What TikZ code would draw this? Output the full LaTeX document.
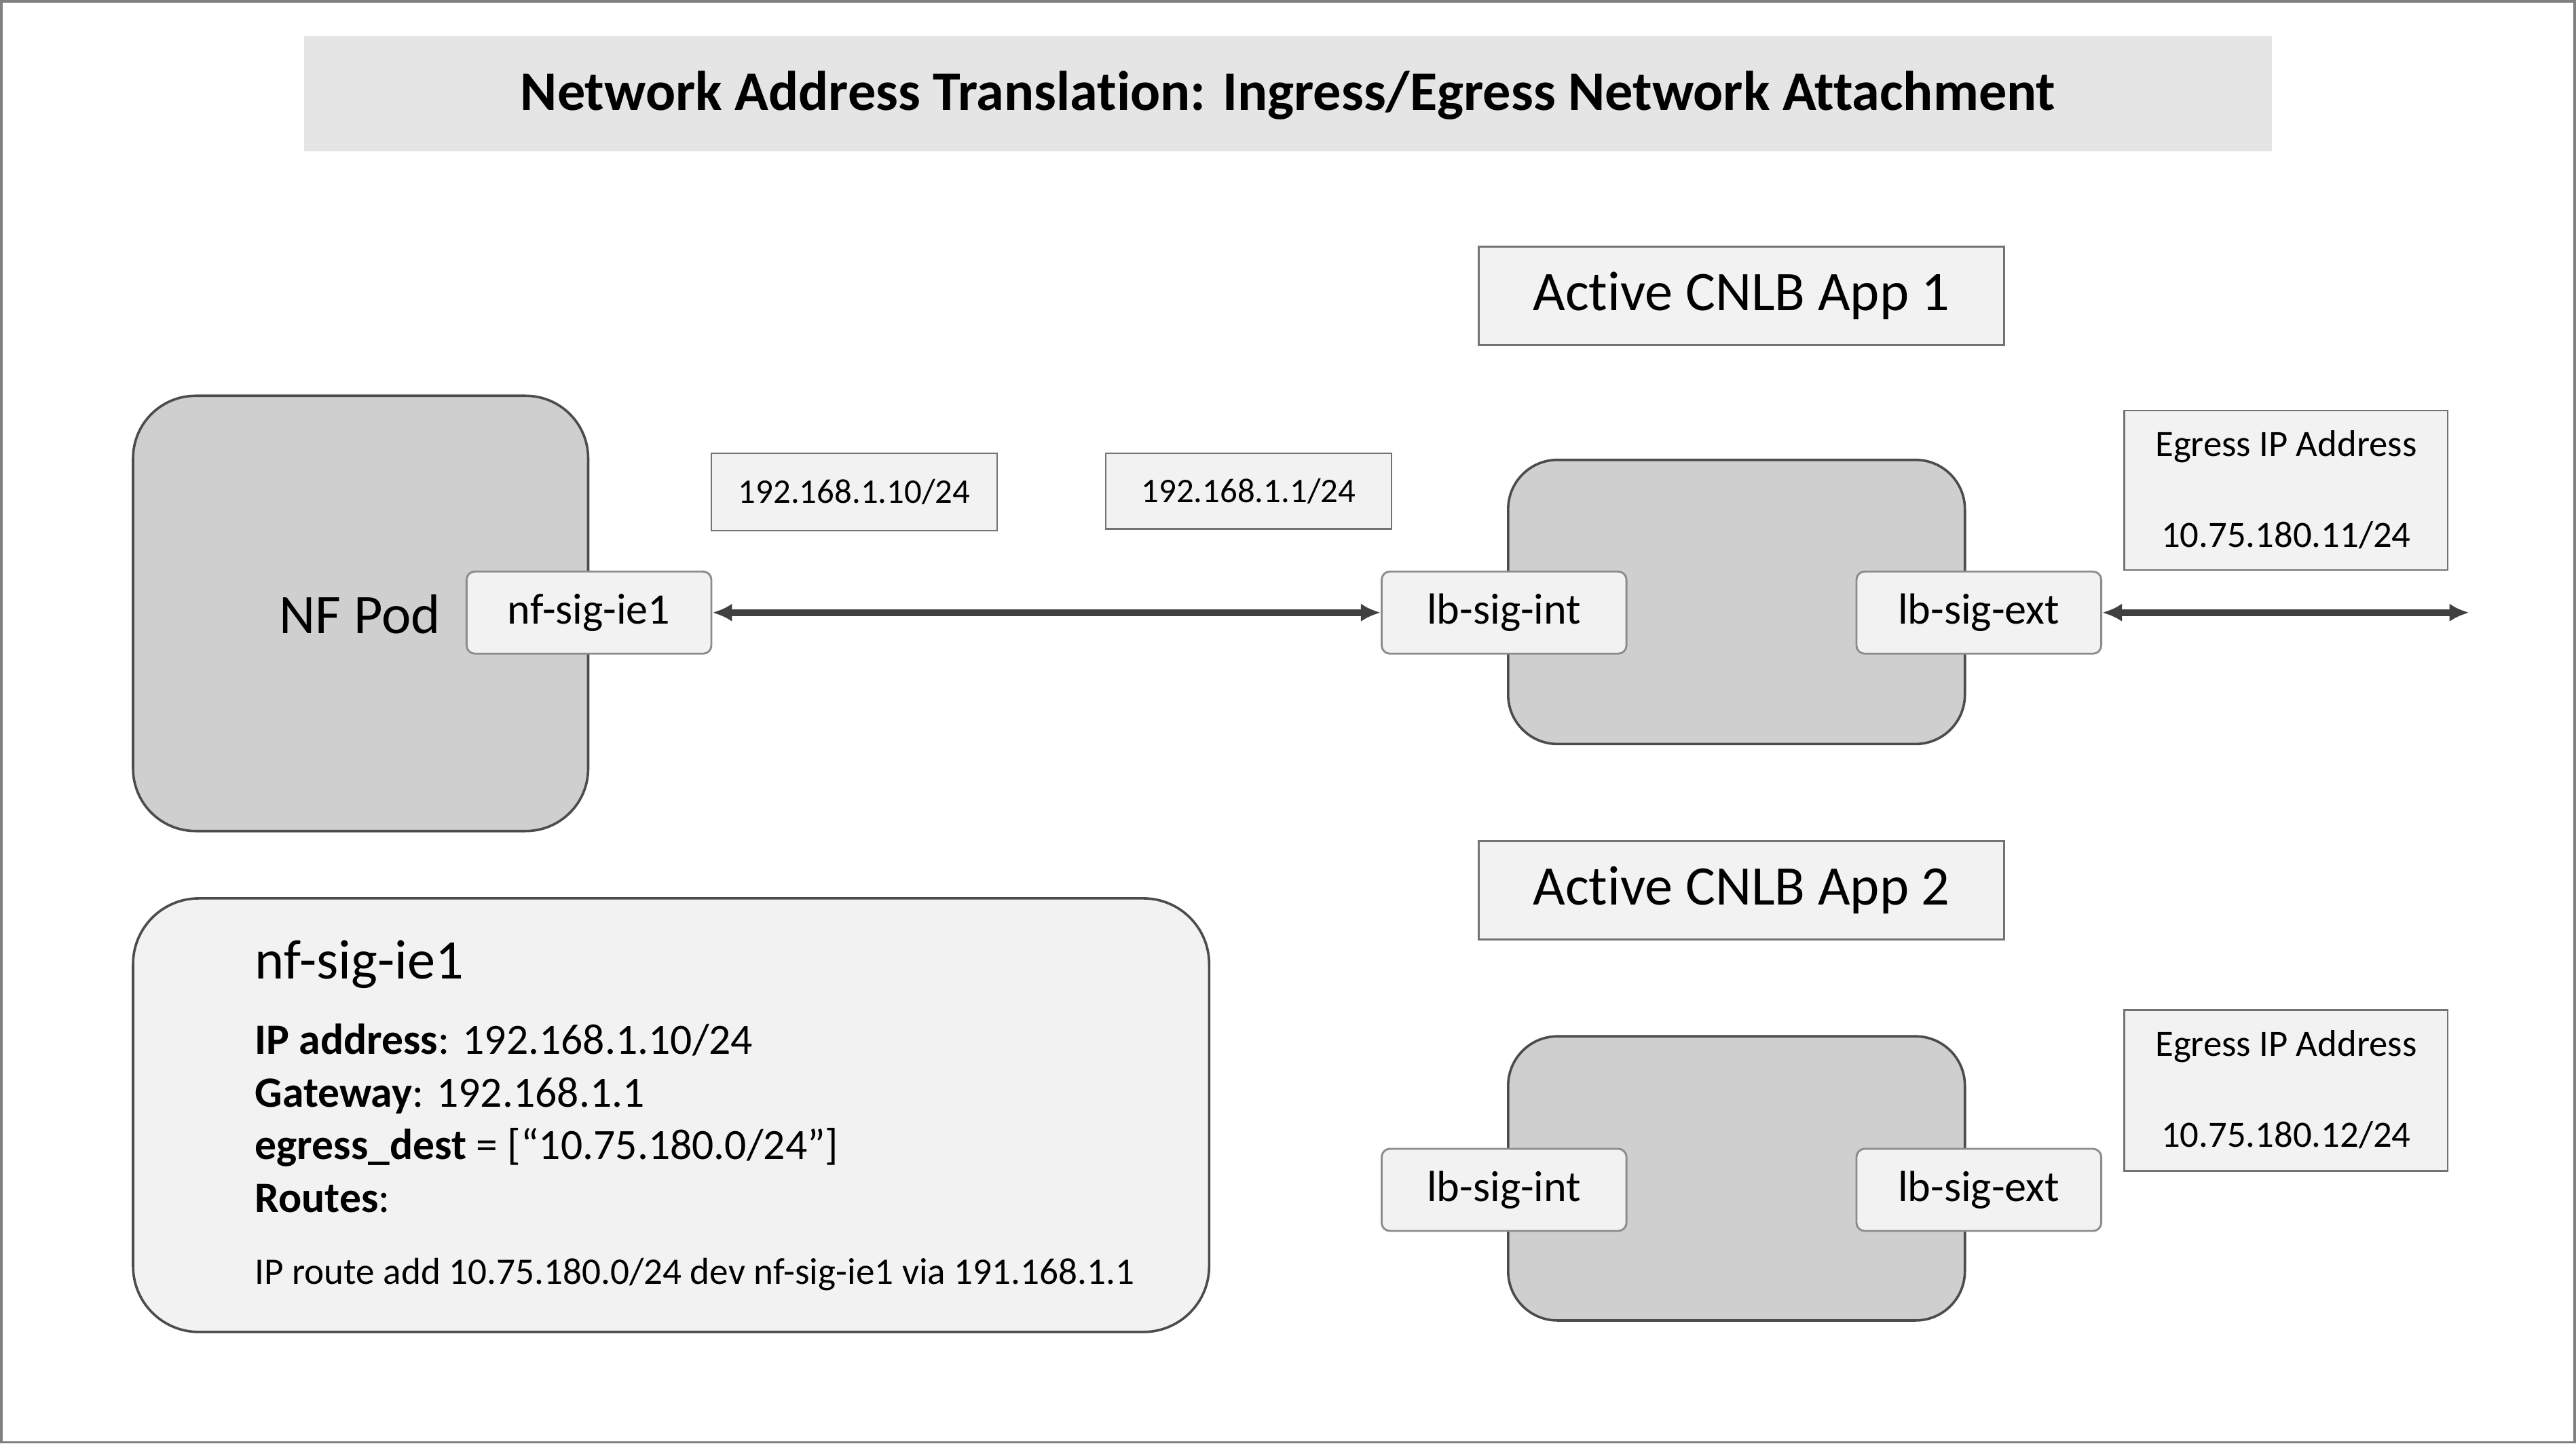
\documentclass[tikz,border=0pt]{standalone}
\usepackage{fontspec}
\setmainfont{Carlito}[Ligatures=NoCommon]
\begin{document}
\begin{tikzpicture}[x=1pt,y=-1pt,
  bigbox/.style={draw=black!70,line width=1.5pt,fill=black!19,rounded corners=38pt},
  port/.style={draw=black!45,line width=1.2pt,fill=black!5,rounded corners=5pt,minimum width=149pt,minimum height=50pt,font=\fontsize{26.5}{30}\selectfont,inner sep=0pt},
  lbl/.style={draw=black!55,line width=1pt,fill=black!5,font=\fontsize{21}{24}\selectfont,inner sep=0pt},
  app/.style={draw=black!55,line width=1.2pt,fill=black!5,minimum width=320pt,minimum height=60pt,font=\fontsize{34}{38}\selectfont,inner sep=0pt},
  conn/.style={draw=black!75,line width=4pt,<->,>={Latex[length=12pt,width=11pt]}}]
\usetikzlibrary{arrows.meta}
\useasboundingbox (0,0) rectangle (1568,879);
\draw[black!50,line width=1.5pt] (0.75,0.75) rectangle (1567.25,878.25);
\fill[black!10] (185,22) rectangle (1383,92);
\node[font=\bfseries\fontsize{34}{38}\selectfont] (title) at (784,58) {Network Address Translation: Ingress/Egress Network Attachment};
% NF pod
\draw[bigbox] (81,241) rectangle (358,506);
\node[font=\fontsize{34}{38}\selectfont] (nfpod) at (219,374) {NF Pod};
\node[port] (nf) at (358.5,373) {nf-sig-ie1};
\node[lbl,minimum width=174pt,minimum height=47pt] (ip1) at (520,299.5) {192.168.1.10/24};
\node[lbl,minimum width=174pt,minimum height=46pt] (ip2) at (760,299) {192.168.1.1/24};
% App 1
\node[app] (app1) at (1060,180) {Active CNLB App 1};
\draw[bigbox,rounded corners=30pt] (918,280) rectangle (1196,453);
\node[port] (int1) at (915.5,373) {lb-sig-int};
\node[port] (ext1) at (1204.5,373) {lb-sig-ext};
\node[lbl,minimum width=197pt,minimum height=97pt] (eg1) at (1391.5,298.5) {};
\node[font=\fontsize{22.6}{26}\selectfont] at (1391.5,272) {Egress IP Address};
\node[font=\fontsize{22.6}{26}\selectfont] at (1391.5,326) {10.75.180.11/24};
\coordinate (out) at (1503,373);
\draw[conn] (nf.east) -- (int1.west);
\draw[conn] (ext1.east) -- (out);
% App 2
\node[app] (app2) at (1060,542) {Active CNLB App 2};
\draw[bigbox,rounded corners=30pt] (918,631) rectangle (1196,804);
\node[port] (int2) at (915.5,724.5) {lb-sig-int};
\node[port] (ext2) at (1204.5,724.5) {lb-sig-ext};
\node[lbl,minimum width=197pt,minimum height=98pt] (eg2) at (1391.5,664) {};
\node[font=\fontsize{22.6}{26}\selectfont] at (1391.5,637) {Egress IP Address};
\node[font=\fontsize{22.6}{26}\selectfont] at (1391.5,691) {10.75.180.12/24};
% info
\draw[draw=black!70,line width=1.5pt,fill=black!5,rounded corners=40pt] (81,547) rectangle (736,811);
\node[anchor=base west,font=\fontsize{34}{38}\selectfont,inner sep=0pt] (it) at (155,596) {nf-sig-ie1};
\begin{scope}[every node/.style={anchor=base west,font=\fontsize{26.3}{30}\selectfont,inner sep=0pt}]
\node (l1) at (155,642) {\textbf{IP address}: 192.168.1.10/24};
\node (l2) at (155,674) {\textbf{Gateway}: 192.168.1.1};
\node (l3) at (155,706) {\textbf{egress\_dest} = [“10.75.180.0/24”]};
\node (l4) at (155,738) {\textbf{Routes}:};
\node[font=\fontsize{22.8}{26}\selectfont] (l5) at (155,782) {IP route add 10.75.180.0/24 dev nf-sig-ie1 via 191.168.1.1};
\end{scope}
\end{tikzpicture}
\end{document}
